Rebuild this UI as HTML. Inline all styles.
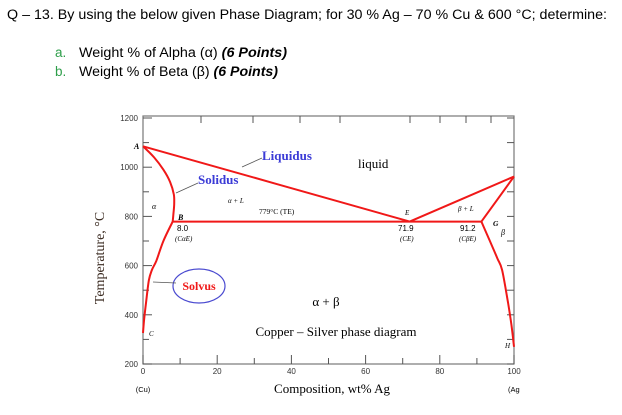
<!DOCTYPE html>
<html><head><meta charset="utf-8"><style>
html,body{margin:0;padding:0;background:#fff;}
svg{display:block;}
.q{font-family:"Liberation Sans",sans-serif;font-size:13.5px;fill:#000;}
.tk{font-family:"Liberation Sans",sans-serif;font-size:8px;fill:#333;}
.sf{font-family:"Liberation Serif",serif;}
</style></head><body>
<svg id="chart" width="622" height="415" viewBox="0 0 622 415">
<text class="q" x="7" y="19" textLength="600" lengthAdjust="spacingAndGlyphs">Q – 13. By using the below given Phase Diagram; for 30 % Ag – 70 % Cu &amp; 600 °C; determine:</text>
<text class="q" x="55" y="57" style="fill:#2e9e4a">a.</text>
<text class="q" x="79" y="57" textLength="208" lengthAdjust="spacingAndGlyphs">Weight % of Alpha (α) <tspan font-weight="bold" font-style="italic">(6 Points)</tspan></text>
<text class="q" x="55" y="76" style="fill:#2e9e4a">b.</text>
<text class="q" x="79" y="76" textLength="199" lengthAdjust="spacingAndGlyphs">Weight % of Beta (β) <tspan font-weight="bold" font-style="italic">(6 Points)</tspan></text>
<g id="plot"></g>
</svg>
<script>
const xTicks=[0,20,40,60,80,100];
const xMinor=[10,30,50,70,90];
const yTicks=[200,400,600,800,1000,1200];
const topTicksPx=[201,253,300,340,410,440,466,491];
const liquidusL=[[0,1085],[71.9,779]];
const liquidusR=[[71.9,779],[100,962]];
const solidusA=[[0,1085],[3,1040],[5.5,990],[7.3,940],[8.3,890],[8.4,850],[8.2,810],[8,779]];
const solvusA=[[8,779],[5.5,700],[3.6,620],[2.4,582],[1.6,541],[0.8,448],[0.3,380],[0,326]];
const solidusB=[[91.2,779],[100,962]];
const solvusB=[[91.2,779],[93.5,700],[95.5,630],[96.8,582],[98.4,448],[99.3,360],[100,270]];
const eutecticLine=[[8,779],[91.2,779]];
const X0=143,X1=514,Y0=364,Y1=118;
const xs=v=>X0+(X1-X0)*v/100;
const ys=t=>Y0-(Y0-Y1)*(t-200)/1000;
const NS="http://www.w3.org/2000/svg";
const g=document.getElementById('plot');
function mk(tag,at,parent){const e=document.createElementNS(NS,tag);for(const k in at)e.setAttribute(k,at[k]);(parent||g).appendChild(e);return e;}
let e;
e=mk('rect',{x:X0,y:116,width:X1-X0,height:Y0-116,fill:'none',stroke:'#777','stroke-width':1.2});


xTicks.forEach(v=>{
 e=mk('line',{x1:xs(v),x2:xs(v),y1:Y0,y2:Y0-9,stroke:'#555'});
 
 
 e=mk('text',{x:xs(v),y:Y0+10,'text-anchor':'middle',class:'tk'});e.textContent=v;
 
 
});
xMinor.forEach(v=>{
 e=mk('line',{x1:xs(v),x2:xs(v),y1:Y0,y2:Y0-6,stroke:'#555'});
 
 
});
topTicksPx.forEach(p=>{
 e=mk('line',{x1:p,x2:p,y1:116,y2:123,stroke:'#555'});
 
 
});
for(let t=200;t<=1200;t+=100){
 e=mk('line',{x1:X0,x2:X0+(t%200?6:9),y1:ys(t),y2:ys(t),stroke:'#555'});
 
 
 e=mk('line',{x1:X1,x2:X1-7,y1:ys(t),y2:ys(t),stroke:'#555'});
 
 
}
yTicks.forEach(t=>{
 e=mk('text',{x:X0-5,y:ys(t)+3,'text-anchor':'end',class:'tk'});e.textContent=t;
 
 
});
function curve(pts,name){
 const P=pts.map(p=>[xs(p[0]),ys(p[1])]);
 let d='M'+P[0][0].toFixed(1)+' '+P[0][1].toFixed(1);
 for(let i=0;i<P.length-1;i++){
  const p0=P[i-1]||P[i],p1=P[i],p2=P[i+1],p3=P[i+2]||P[i+1];
  const c1=[p1[0]+(p2[0]-p0[0])/6,p1[1]+(p2[1]-p0[1])/6];
  const c2=[p2[0]-(p3[0]-p1[0])/6,p2[1]-(p3[1]-p1[1])/6];
  d+=' C'+c1[0].toFixed(1)+' '+c1[1].toFixed(1)+' '+c2[0].toFixed(1)+' '+c2[1].toFixed(1)+' '+p2[0].toFixed(1)+' '+p2[1].toFixed(1);
 }
 e=mk('path',{d:d,fill:'none',stroke:'#f01818','stroke-width':2,'stroke-linejoin':'round'});
 
 
}
curve(liquidusL,'liquidus-left');curve(liquidusR,'liquidus-right');
curve(solidusA,'alpha-solidus');curve(solvusA,'alpha-solvus');
curve(solidusB,'beta-solidus');curve(solvusB,'beta-solvus');
curve(eutecticLine,'eutectic-isotherm');
function lab(x,y,txt,st,name,anchor){
 e=mk('text',{x:x,y:y,class:'sf',style:st,'text-anchor':anchor||'start'});e.textContent=txt;
 
 
}
lab(262,160,'Liquidus','font-size:13px;font-weight:bold;fill:#3b3bd6','liquidus-label');
lab(198,184,'Solidus','font-size:13px;font-weight:bold;fill:#3b3bd6','solidus-label');
lab(358,168,'liquid','font-size:13px;fill:#000','liquid-label');
lab(134,149,'A','font-size:8px;font-style:italic;font-weight:bold','point-a');
lab(152,209,'α','font-size:8px;font-style:italic','alpha-region-label');
lab(228,203,'α  + L','font-size:7px;font-style:italic','alpha-liquid-label');
lab(259,214,'779°C (TE)','font-size:7.5px','eutectic-temp-label');
lab(178,220,'B','font-size:8px;font-style:italic;font-weight:bold','point-b');
lab(177,231,'8.0','font-size:8px;font-family:Liberation Sans','c-alpha-value');
lab(175,241,'(CαE)','font-size:7px;font-style:italic','c-alpha-label');
lab(405,215,'E','font-size:7px;font-style:italic','point-e');
lab(398,231,'71.9','font-size:8px;font-family:Liberation Sans','ce-value');
lab(400,241,'(CE)','font-size:7px;font-style:italic','ce-label');
lab(458,211,'β + L','font-size:7px;font-style:italic','beta-liquid-label');
lab(460,231,'91.2','font-size:8px;font-family:Liberation Sans','c-beta-value');
lab(459,241,'(CβE)','font-size:7px;font-style:italic','c-beta-label');
lab(493,226,'G','font-size:7.5px;font-style:italic;font-weight:bold','point-g');
lab(501,235,'β','font-size:8px;font-style:italic','beta-region-label');
lab(149,336,'C','font-size:7px;font-style:italic','point-c');
lab(505,348,'H','font-size:7px;font-style:italic','point-h');
e=mk('ellipse',{cx:199,cy:286,rx:26,ry:17,fill:'none',stroke:'#4a4ad0','stroke-width':1.2});


lab(199,290,'Solvus','font-size:12px;font-weight:bold;fill:#f01818','solvus-label','middle');
lab(326,306,'α + β','font-size:13px','alpha-beta-label','middle');
lab(336,336,'Copper – Silver phase diagram','font-size:13px','diagram-caption','middle');
lab(332,393,'Composition, wt% Ag','font-size:13px','x-axis-title','middle');
lab(143,392,'(Cu)','font-size:7.5px;font-family:Liberation Sans','cu-label','middle');
lab(508,392,'(Ag','font-size:7.5px;font-family:Liberation Sans','ag-label');
e=mk('text',{x:0,y:0,class:'sf',style:'font-size:14px;fill:#3a2a20','text-anchor':'middle',transform:'translate(104,258) rotate(-90)'});
e.textContent='Temperature, °C';


[[[262,158],[242,167]],[[198,183],[176,193]],[[176,283],[153,282]]].forEach(a=>{
 e=mk('line',{x1:a[0][0],y1:a[0][1],x2:a[1][0],y2:a[1][1],stroke:'#555','stroke-width':0.8});
 
 
});
</script>
</body></html>
